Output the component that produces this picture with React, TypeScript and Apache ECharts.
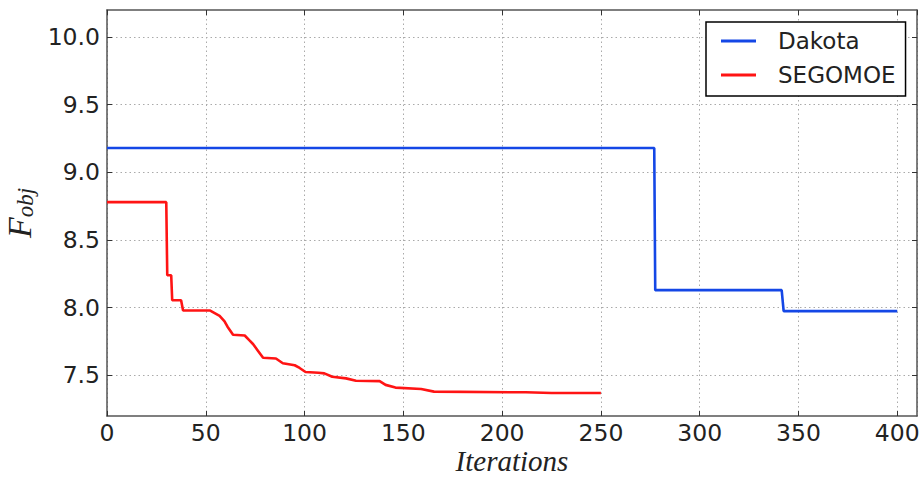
import React, { useEffect, useRef } from "react";
import * as echarts from "echarts";

const seriesNames = ["Dakota", "SEGOMOE"];
const dakotaIter = [0, 277, 277.5, 341.5, 342.5, 400];
const dakotaFobj = [9.18, 9.18, 8.13, 8.13, 7.975, 7.975];
const segoIter = [0, 30, 30.5, 32.5, 33, 37.5, 38.5, 52, 54.5, 57, 59.5, 61, 63.8, 69.7, 72, 74, 76, 79, 85.5, 89, 95, 97.5, 100.5, 107, 110, 114, 121, 126, 138, 141, 146, 159, 165.5, 212, 225, 250];
const segoFobj = [8.78, 8.78, 8.24, 8.24, 8.055, 8.055, 7.98, 7.98, 7.96, 7.94, 7.9, 7.86, 7.8, 7.795, 7.76, 7.73, 7.69, 7.63, 7.625, 7.59, 7.575, 7.555, 7.525, 7.52, 7.515, 7.49, 7.478, 7.46, 7.458, 7.43, 7.41, 7.4, 7.38, 7.375, 7.37, 7.37];
const yTicks = [7.5, 8.0, 8.5, 9.0, 9.5, 10.0];

export default function App() {
  const ref = useRef<HTMLDivElement>(null);
  useEffect(() => {
    const chart = echarts.init(ref.current!, null, { renderer: "svg" });
    const frame = "#555";
    const labelFont = { fontFamily: "DejaVu Sans", fontSize: 23.5, color: "#222" };
    const grid = { left: 107, top: 10, right: 5, bottom: 61, outerBoundsMode: "none" } as any;
    const splitLine = { show: true, lineStyle: { color: "#aaa", type: [1.5, 3], width: 1 } };
    chart.setOption({
      animation: false,
      backgroundColor: "#fff",
      grid,
      legend: {
        data: seriesNames,
        orient: "vertical",
        left: 706,
        top: 22,
        padding: [7, 10, 9, 15],
        itemGap: 10,
        itemWidth: 35,
        itemHeight: 3,
        icon: "rect",
        borderColor: "#000",
        borderWidth: 1.5,
        backgroundColor: "#fff",
        textStyle: { ...labelFont, fontSize: 23, lineHeight: 24, padding: [0, 0, 0, 17] },
      },
      xAxis: [
        {
          type: "value",
          min: 0,
          max: 410,
          interval: 50,
          position: "bottom",
          name: "Iterations",
          nameLocation: "middle",
          nameMoveOverlap: false,
          nameGap: 32,
          nameTextStyle: { fontFamily: "Liberation Serif", fontStyle: "italic", fontSize: 29, lineHeight: 26, color: "#222" },
          axisLine: { show: true, lineStyle: { color: frame, width: 1.5 } },
          axisTick: { show: true, inside: true, length: 5, lineStyle: { color: "#333" } },
          axisLabel: { ...labelFont, margin: 5, showMaxLabel: false },
          splitLine,
        },
        {
          type: "value",
          min: 0,
          max: 410,
          interval: 50,
          position: "top",
          axisLine: { show: true, onZero: false, lineStyle: { color: frame, width: 1.5 } },
          axisTick: { show: true, inside: true, length: 5, lineStyle: { color: "#333" } },
          axisLabel: { show: false },
          splitLine: { show: false },
        },
      ],
      yAxis: [
        {
          type: "value",
          min: 7.2,
          max: 10.2,
          position: "left",
          name: "{f|F}{s|obj}",
          nameLocation: "middle",
          nameRotate: 90,
          nameGap: 64,
          nameTextStyle: {
            rich: {
              f: { fontFamily: "Liberation Serif", fontStyle: "italic", fontSize: 34, color: "#222", verticalAlign: "bottom", lineHeight: 34 },
              s: { fontFamily: "Liberation Serif", fontStyle: "italic", fontSize: 23, color: "#222", verticalAlign: "bottom", lineHeight: 26 },
            },
          },
          axisLine: { show: true, lineStyle: { color: frame, width: 1.5 } },
          axisTick: { show: true, inside: true, length: 5, customValues: yTicks, lineStyle: { color: "#333" } },
          axisLabel: { ...labelFont, margin: 7, customValues: yTicks, formatter: (v: number) => v.toFixed(1) },
          splitLine,
        },
        {
          type: "value",
          min: 7.2,
          max: 10.2,
          position: "right",
          axisLine: { show: true, onZero: false, lineStyle: { color: frame, width: 1.5 } },
          axisTick: { show: true, inside: true, length: 5, customValues: yTicks, lineStyle: { color: "#333" } },
          axisLabel: { show: false, customValues: yTicks },
          splitLine: { show: false },
        },
      ],
      series: [
        {
          name: seriesNames[0],
          type: "line",
          symbol: "none",
          data: dakotaIter.map((x, i) => [x, dakotaFobj[i]]),
          lineStyle: { color: "#1447e6", width: 2.6 },
          itemStyle: { color: "#1447e6" },
          z: 3,
        },
        {
          name: seriesNames[1],
          type: "line",
          symbol: "none",
          data: segoIter.map((x, i) => [x, segoFobj[i]]),
          lineStyle: { color: "#ff1414", width: 2.6 },
          itemStyle: { color: "#ff1414" },
          z: 3,
        },
      ],
    });
    return () => chart.dispose();
  }, []);
  return <div ref={ref} style={{ position: "fixed", left: 0, top: 0, width: 922, height: 477 }} />;
}
